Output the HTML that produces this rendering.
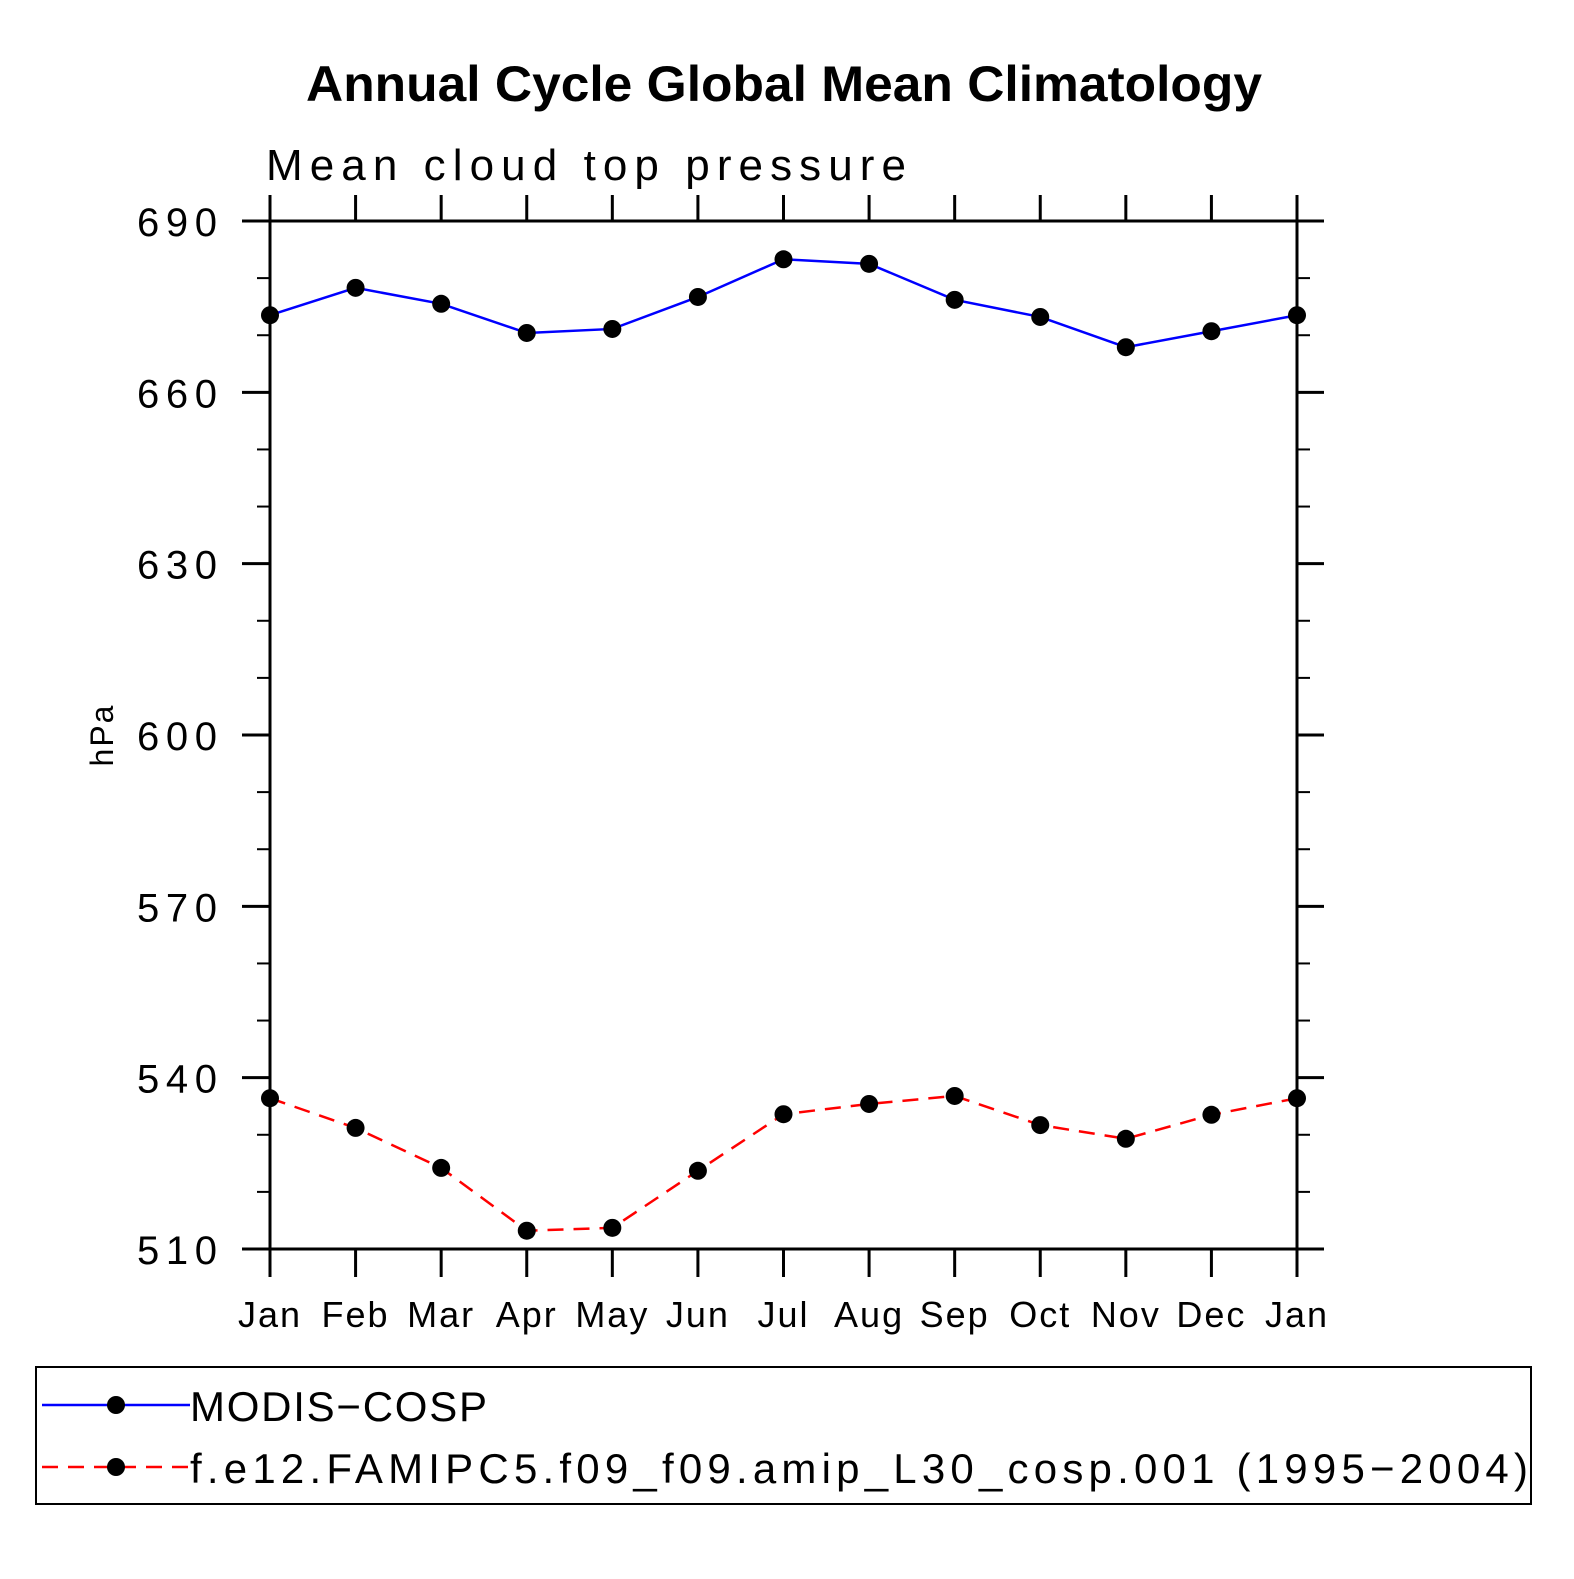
<!DOCTYPE html>
<html><head><meta charset="utf-8"><style>
html,body{margin:0;padding:0;background:#fff;}
svg text{font-family:"Liberation Sans",sans-serif;}
</style></head><body>
<svg id="chart" width="1574" height="1574" viewBox="0 0 1574 1574" xmlns="http://www.w3.org/2000/svg">
<text x="306" y="101" font-size="50" font-weight="bold" textLength="956" lengthAdjust="spacingAndGlyphs">Annual Cycle Global Mean Climatology</text>
<text x="266" y="180" font-size="44" textLength="640" lengthAdjust="spacing">Mean cloud top pressure</text>
<text transform="translate(113,735) rotate(-90)" text-anchor="middle" font-size="32" letter-spacing="2">hPa</text>
<rect x="270" y="221" width="1027" height="1028" fill="none" stroke="#000" stroke-width="3"/>
<g id="axes"></g>
<g id="series"></g>
<rect x="36" y="1367" width="1495" height="137" fill="none" stroke="#000" stroke-width="2"/>
<g>
<line x1="42" y1="1405" x2="190" y2="1405" stroke="#0000ff" stroke-width="2.5"/>
<circle cx="116" cy="1405" r="9" fill="#000"/>
<text x="190" y="1421" font-size="42" textLength="297" lengthAdjust="spacing">MODIS−COSP</text>
</g>
<g>
<line x1="42" y1="1467" x2="190" y2="1467" stroke="#ff0000" stroke-width="2.5" stroke-dasharray="16,10"/>
<circle cx="116" cy="1467" r="9" fill="#000"/>
<text x="190" y="1483" font-size="42" textLength="1338" lengthAdjust="spacing">f.e12.FAMIPC5.f09_f09.amip_L30_cosp.001 (1995−2004)</text>
</g>
</svg>
<script>
const months = ["Jan","Feb","Mar","Apr","May","Jun","Jul","Aug","Sep","Oct","Nov","Dec","Jan"];
const modisValues = [673.5,678.3,675.5,670.4,671.1,676.7,683.3,682.5,676.2,673.2,667.9,670.7,673.5];
const modelValues = [536.4,531.2,524.2,513.2,513.7,523.7,533.6,535.4,536.8,531.7,529.3,533.5,536.4];
const yTicks = [510,540,570,600,630,660,690];
const yMinorTicks = [520,530,550,560,580,590,610,620,640,650,670,680];

const NS="http://www.w3.org/2000/svg";
const X0=270,X1=1297,Y0=1249,Y1=221,YMIN=510,YMAX=690;
const xs=i=>X0+(X1-X0)*i/(months.length-1);
const ys=v=>Y0-(v-YMIN)/(YMAX-YMIN)*(Y0-Y1);
function mk(tag,attrs,parent){const e=document.createElementNS(NS,tag);for(const k in attrs)e.setAttribute(k,attrs[k]);parent.appendChild(e);return e;}
const ax=document.getElementById('axes');
yTicks.forEach(v=>{
  const y=ys(v);
  const t=mk('line',{x1:242,y1:y,x2:X0,y2:y,stroke:'#000','stroke-width':3},ax);
  
  
  const r=mk('line',{x1:X1,y1:y,x2:1324,y2:y,stroke:'#000','stroke-width':3},ax);
  
  
  const l=mk('text',{x:137,y:y+15,'font-size':40,textLength:80,lengthAdjust:'spacing'},ax);
  l.textContent=v;
  
  
});
yMinorTicks.forEach(v=>{
  const y=ys(v);
  const t=mk('line',{x1:257,y1:y,x2:X0,y2:y,stroke:'#000','stroke-width':2},ax);
  
  
  const r=mk('line',{x1:X1,y1:y,x2:1310,y2:y,stroke:'#000','stroke-width':2},ax);
  
  
});
months.forEach((m,i)=>{
  const x=xs(i);
  const b=mk('line',{x1:x,y1:Y0,x2:x,y2:1277,stroke:'#000','stroke-width':3},ax);
  
  
  const t=mk('line',{x1:x,y1:195,x2:x,y2:Y1,stroke:'#000','stroke-width':3},ax);
  
  
  const l=mk('text',{x:x,y:1327,'text-anchor':'middle','font-size':36,'letter-spacing':2},ax);
  l.textContent=m;
  
  
});
const sg=document.getElementById('series');
function drawSeries(vals,color,dash,name){
  const pts=vals.map((v,i)=>xs(i)+','+ys(v)).join(' ');
  const attrs={points:pts,fill:'none',stroke:color,'stroke-width':2.5};
  if(dash)attrs['stroke-dasharray']=dash;
  const p=mk('polyline',attrs,sg);
  
  
  vals.forEach((v,i)=>{
    const c=mk('circle',{cx:xs(i),cy:ys(v),r:9,fill:'#000'},sg);
    
    
  });
}
drawSeries(modisValues,'#0000ff',null,'modis-cosp');
drawSeries(modelValues,'#ff0000','16,10','model');
</script>
</body></html>
